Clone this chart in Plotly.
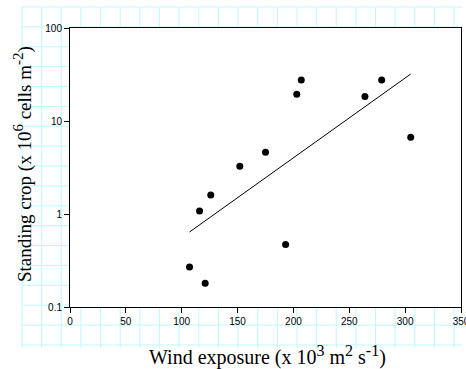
import plotly.graph_objects as go

# Data
wind_exposure = [107, 116, 121, 126, 152, 175, 193, 203, 207, 264, 279, 305]
standing_crop = [0.27, 1.08, 0.18, 1.6, 3.26, 4.6, 0.47, 19.4, 27.6, 18.3, 27.6, 6.7]
fit_x = [107, 305]
fit_y = [0.64, 32]
x_ticks = [0, 50, 100, 150, 200, 250, 300, 350]
y_ticks = [0.1, 1, 10, 100]
y_ticklabels = ["0.1", "1", "10", "100"]

W, H = 466, 369
L, R, T, B = 70, 5, 28, 62
pw, ph = W - L - R, H - T - B


def px_x(p):
    return (p - L) / pw


def px_y(p):
    return (H - B - p) / ph


def sup(t, s=15):
    return '<sup><span style="font-size:%dpx">' % s + t + '</span></sup>'


fig = go.Figure()
fig.add_trace(go.Scatter(x=fit_x, y=fit_y, mode="lines",
                         line=dict(color="black", width=1), showlegend=False))
fig.add_trace(go.Scatter(x=wind_exposure, y=standing_crop, mode="markers",
                         marker=dict(color="black", size=7), showlegend=False))

# graph-paper background grid
shapes = []
grid_col = "#bff9ff"
gx0, gx1, gy0, gy1 = 22, 462, 7, 348
i = 0
while True:
    xx = gx0 + i * 19.64
    if xx > gx1 - 2:
        break
    shapes.append(dict(type="line", xref="paper", yref="paper", layer="below",
                       x0=px_x(xx), x1=px_x(xx), y0=px_y(gy0), y1=px_y(gy1),
                       line=dict(color=grid_col, width=1)))
    i += 1
j = 0
while True:
    yy = gy0 + j * 19.88
    if yy > gy1 - 1:
        break
    shapes.append(dict(type="line", xref="paper", yref="paper", layer="below",
                       x0=px_x(gx0), x1=px_x(gx1), y0=px_y(yy), y1=px_y(yy),
                       line=dict(color=grid_col, width=1)))
    j += 1
# white plotting area over the paper grid
shapes.append(dict(type="rect", xref="paper", yref="paper", layer="below",
                   x0=0, x1=1, y0=0, y1=1, fillcolor="white", line=dict(width=0)))

fig.update_layout(
    width=W, height=H,
    margin=dict(l=L, r=R, t=T, b=B, autoexpand=False),
    paper_bgcolor="white", plot_bgcolor="white",
    shapes=shapes,
    font=dict(family="Liberation Sans, Arial", size=10, color="black"),
    xaxis=dict(range=[0, 350], tickvals=x_ticks, showgrid=False, zeroline=False,
               showline=True, linecolor="black", linewidth=1, mirror=True,
               ticks="outside", ticklen=5, tickcolor="black", tickwidth=1,
               ticklabeloverflow="allow"),
    yaxis=dict(type="log", range=[-1, 2], tickvals=y_ticks, ticktext=y_ticklabels,
               showgrid=False, zeroline=False,
               showline=True, linecolor="black", linewidth=1, mirror=True,
               ticks="outside", ticklen=5, tickcolor="black", tickwidth=1,
               ticklabeloverflow="allow"),
    annotations=[
        dict(text="Wind exposure (x 10" + sup("3", 16) + " m" + sup("2", 16) + " s" + sup("-1", 16) + ")",
             xref="paper", yref="paper", x=px_x(267), y=px_y(355), showarrow=False,
             xanchor="center", yanchor="middle",
             font=dict(family="Liberation Serif, Times New Roman", size=20, color="black")),
        dict(text="Standing crop (x 10" + sup("6") + " cells m" + sup("-2") + ")",
             xref="paper", yref="paper", x=px_x(23), y=px_y(164), showarrow=False,
             textangle=-90, xanchor="center", yanchor="middle",
             font=dict(family="Liberation Serif, Times New Roman", size=19, color="black")),
    ],
)

fig.write_html("out.html", config={"displayModeBar": False},
               post_script="document.body.style.margin='0';document.body.style.overflow='hidden';")
